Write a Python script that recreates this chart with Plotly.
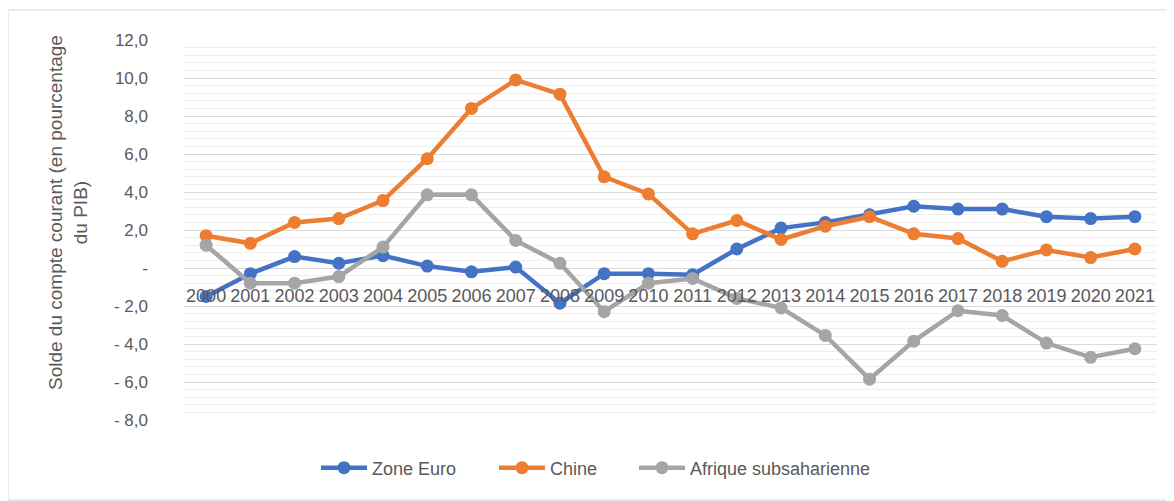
import plotly.graph_objects as go

years = [str(y) for y in range(2000, 2022)]
zone_euro = [-1.5, -0.3, 0.6, 0.25, 0.65, 0.1, -0.2, 0.05, -1.85, -0.3, -0.3, -0.35, 1.0,
             2.1, 2.4, 2.8, 3.25, 3.1, 3.1, 2.7, 2.6, 2.7]
chine = [1.7, 1.3, 2.4, 2.6, 3.55, 5.75, 8.4, 9.9, 9.15, 4.8, 3.9, 1.8, 2.5,
         1.5, 2.2, 2.7, 1.8, 1.55, 0.35, 0.95, 0.55, 1.0]
afrique = [1.2, -0.8, -0.8, -0.45, 1.1, 3.85, 3.85, 1.45, 0.25, -2.3, -0.8, -0.55, -1.6,
           -2.1, -3.55, -5.85, -3.85, -2.25, -2.5, -3.95, -4.7, -4.25]
series_names = ["Zone Euro", "Chine", "Afrique subsaharienne"]
colors = ["#4472C4", "#ED7D31", "#A5A5A5"]
ytick_vals = [12, 10, 8, 6, 4, 2, 0, -2, -4, -6, -8]
ytick_text = ["12,0", "10,0", "8,0", "6,0", "4,0", "2,0", "-", "- 2,0", "- 4,0", "- 6,0", "- 8,0"]

FONT = "Liberation Sans"
GREY = "#595959"

OFF = 8  # page body margin offset
W, H = 1174, 501
L = 184 - OFF
T = 40 - OFF
R = W - (1157 - OFF)
B = H - (420 - OFF)
pw, ph = W - L - R, H - T - B


def px_x(x):
    return (x - OFF - L) / pw


def px_y(y):
    return (ph - (y - OFF - T)) / ph


legend_ids = ["legend", "legend2", "legend3"]
legend_x_px = [316, 494, 634]

fig = go.Figure()
for name, vals, c, lid in zip(series_names, [zone_euro, chine, afrique], colors, legend_ids):
    fig.add_trace(go.Scatter(x=years, y=vals, name=name, mode="lines+markers",
                             line=dict(color=c, width=4.5),
                             marker=dict(color=c, size=13),
                             legend=lid))

legend_common = dict(orientation="h", xanchor="left", yanchor="middle",
                     y=px_y(468), font=dict(size=18, color=GREY, family=FONT),
                     bgcolor="rgba(0,0,0,0)", itemwidth=46)

layout_legends = {}
for lid, xp in zip(legend_ids, legend_x_px):
    d = dict(legend_common)
    d["x"] = px_x(xp)
    layout_legends[lid] = d

fig.update_layout(
    width=W, height=H,
    margin=dict(l=L, r=R, t=T, b=B, autoexpand=False),
    paper_bgcolor="white", plot_bgcolor="white",
    font=dict(family=FONT, color=GREY),
    showlegend=True,
    xaxis=dict(type="category", range=[-0.5, 21.5], showgrid=False,
               showline=False, zeroline=False, ticks="", automargin=False,
               anchor="free", position=8 / 20, tickangle=0,
               ticklabelstandoff=15,
               tickfont=dict(size=18, color=GREY)),
    yaxis=dict(range=[-8, 12], tickmode="array", tickvals=ytick_vals,
               ticktext=ytick_text, showgrid=True, gridcolor="#d9d9d9",
               gridwidth=1, zeroline=True, zerolinecolor="#d9d9d9",
               zerolinewidth=1, showline=False, ticks="", automargin=False,
               ticklabelstandoff=35,
               tickfont=dict(size=17, color=GREY),
               minor=dict(tick0=0, dtick=0.4, showgrid=True,
                          gridcolor="#eeeeee", gridwidth=1)),
    **layout_legends,
)

fig.add_annotation(text="Solde du compte courant (en pourcentage<br>du PIB)",
                   xref="paper", yref="paper",
                   x=px_x(68), y=px_y(213),
                   textangle=-90, showarrow=False,
                   font=dict(size=19, color=GREY, family=FONT),
                   xanchor="center", yanchor="middle")

fig.add_shape(type="rect", xref="paper", yref="paper",
              x0=px_x(8), x1=px_x(1169),
              y0=px_y(500), y1=px_y(10),
              line=dict(color="#d9d9d9", width=1), layer="below")

fig.write_html("out.html")
